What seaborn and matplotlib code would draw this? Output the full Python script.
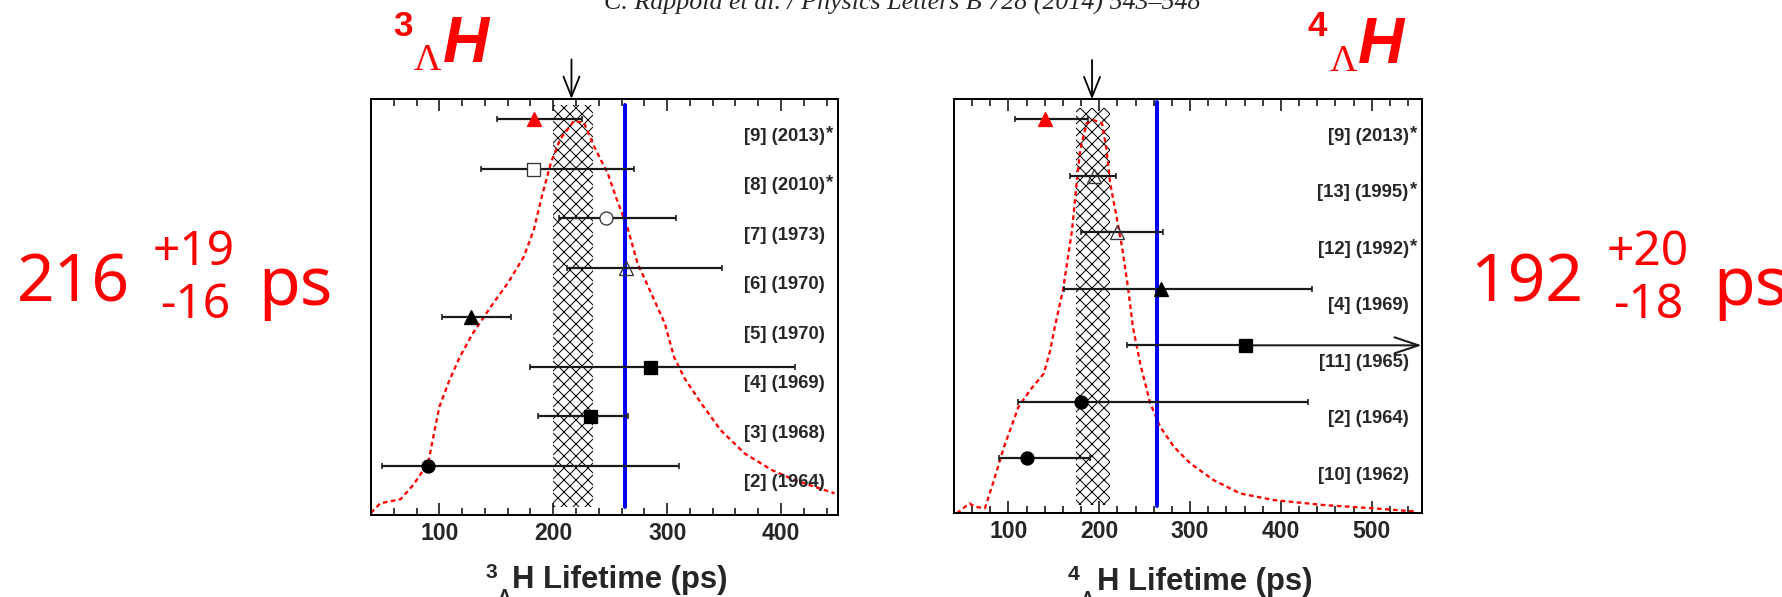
import matplotlib
matplotlib.use("Agg")
import matplotlib.pyplot as plt
from matplotlib.ticker import MultipleLocator
import seaborn as sns

# --- 3-Lambda-H lifetime measurements (bottom row first) ---
h3_labels = ["[2] (1964)", "[3] (1968)", "[4] (1969)", "[5] (1970)",
             "[6] (1970)", "[7] (1973)", "[8] (2010)", "[9] (2013)"]
h3_star = [False, False, False, False, False, False, True, True]
h3_tau = [90, 232, 285, 128, 264, 246, 182, 183]
h3_plus = [220, 34, 127, 35, 84, 62, 89, 42]
h3_minus = [40, 45, 105, 26, 52, 41, 45, 32]
h3_marker = ["o", "s", "s", "^", "^", "o", "s", "^"]
h3_kind = ["full", "full", "full", "full", "open", "open", "open", "red"]

# combined ideogram (height as fraction of the frame)
h3_curve_x = [40, 48, 66, 77, 90, 93, 100, 109, 118, 129, 145, 160, 174, 183,
              190, 198, 206, 218, 227, 236, 248, 256, 265, 274, 286, 298, 306,
              315, 330, 347, 368, 392, 412, 447]
h3_curve_y = [0.005, 0.028, 0.038, 0.072, 0.124, 0.164, 0.26, 0.325, 0.38,
              0.435, 0.50, 0.557, 0.62, 0.686, 0.766, 0.847, 0.903, 0.947,
              0.943, 0.885, 0.82, 0.757, 0.693, 0.605, 0.533, 0.46, 0.38,
              0.33, 0.268, 0.204, 0.148, 0.108, 0.084, 0.052]
h3_avg, h3_up, h3_dn = 216, 19, 16

# --- 4-Lambda-H lifetime measurements (bottom row first) ---
h4_labels = ["[10] (1962)", "[2] (1964)", "[11] (1965)", "[4] (1969)",
             "[12] (1992)", "[13] (1995)", "[9] (2013)"]
h4_star = [False, False, False, False, True, True, True]
h4_tau = [120, 180, 360, 268, 220, 194, 140]
h4_plus = [70, 250, None, 166, 50, 24, 48]   # None: no upper bound
h4_minus = [30, 70, 130, 107, 40, 26, 33]
h4_marker = ["o", "o", "s", "^", "^", "^", "^"]
h4_kind = ["full", "full", "full", "full", "open", "open", "red"]

h4_curve_x = [43, 57, 63, 74, 84, 95, 111, 124, 139, 146, 151, 160, 170, 175,
              179, 186, 193, 203, 208, 212, 219, 225, 232, 237, 245, 256, 267,
              282, 300, 326, 355, 392, 447, 502, 550]
h4_curve_y = [0.0, 0.024, 0.016, 0.012, 0.08, 0.16, 0.257, 0.298, 0.338,
              0.394, 0.45, 0.539, 0.684, 0.797, 0.878, 0.942, 0.95, 0.942,
              0.878, 0.797, 0.716, 0.644, 0.539, 0.45, 0.362, 0.266, 0.209,
              0.161, 0.121, 0.08, 0.048, 0.032, 0.02, 0.012, 0.004]
h4_avg, h4_up, h4_dn = 192, 20, 18

free_lambda = 263.2

sns.set_theme(style="white")
plt.rcParams["font.family"] = ["Liberation Sans", "DejaVu Sans"]
plt.rcParams["hatch.linewidth"] = 1.0

W, H = 1782, 597
fig = plt.figure(figsize=(W / 72, H / 72), dpi=72)


def px(x, y):
    return x / W, 1 - y / H


def panel(rect, labels, star, tau, plus, minus, markers, kinds,
          cx, cy, avg, up, dn, xlim, ylim, band_y, line_y):
    ax = fig.add_axes(rect)
    ax.set_xlim(*xlim)
    ax.set_ylim(*ylim)
    rows = list(range(len(labels)))

    ax.axvspan(avg - dn, avg + up, ymin=band_y[0], ymax=band_y[1],
               facecolor="none", edgecolor="black", hatch="xx",
               linewidth=0, zorder=1)
    sns.lineplot(x=cx, y=cy, ax=ax, color="red", linestyle=(0, (2.0, 1.5)),
                 linewidth=2.3, transform=ax.get_xaxis_transform(), zorder=2)
    ax.axvline(free_lambda, ymin=line_y[0], ymax=line_y[1], color="#0000ee",
               linewidth=4, zorder=3)

    for r, t, p, m, mk, kd, lab, st in zip(rows, tau, plus, minus, markers,
                                            kinds, labels, star):
        hi = 0 if p is None else p
        ax.errorbar([t], [r], xerr=[[m], [hi]], fmt="none", ecolor="#1a1a1a",
                    elinewidth=2.2, capsize=3, capthick=1.6, zorder=4)
        if p is None:
            ax.annotate("", xy=(xlim[1], r), xytext=(t, r),
                        arrowprops=dict(arrowstyle="->,head_length=1.2,head_width=0.4",
                                        lw=2.0, color="#1a1a1a",
                                        mutation_scale=20, shrinkA=0, shrinkB=0),
                        annotation_clip=False, zorder=4)
        if kd == "full":
            fc, ec = "black", "black"
        elif kd == "red":
            fc, ec = "red", "red"
        else:
            fc, ec = ("none" if mk == "^" else "white"), "#333333"
        ms = {"o": 13, "s": 13, "^": 14}[mk]
        ax.plot([t], [r], marker=mk, ms=ms, mfc=fc, mec=ec, mew=1.3,
                ls="none", zorder=5)
        ax.annotate(lab, xy=(1, r), xycoords=ax.get_yaxis_transform(),
                    xytext=(-13, -17), textcoords="offset pixels",
                    ha="right", va="center", fontsize=18.5, fontweight="bold")
        if st:
            ax.annotate("*", xy=(1, r), xycoords=ax.get_yaxis_transform(),
                        xytext=(-12, -14), textcoords="offset pixels",
                        ha="left", va="center", fontsize=18.5,
                        fontweight="bold")

    # arrow marking the average
    ax.annotate("", xy=(avg, 1.0), xytext=(avg, 1.095),
                xycoords=ax.get_xaxis_transform(),
                arrowprops=dict(arrowstyle="->,head_length=1.0,head_width=0.4",
                                lw=1.8, color="black", mutation_scale=20,
                                shrinkA=0, shrinkB=0),
                annotation_clip=False)

    ax.set_xlabel("")
    ax.set_ylabel("")
    ax.set_yticks([])
    ax.xaxis.set_major_locator(MultipleLocator(100))
    ax.xaxis.set_minor_locator(MultipleLocator(20))
    ax.tick_params(axis="x", which="both", direction="in", top=True,
                   bottom=True, width=1.5, color="black")
    ax.tick_params(axis="x", which="major", length=12, pad=7,
                   labelsize=23)
    ax.tick_params(axis="x", which="minor", length=7)
    for lbl in ax.get_xticklabels():
        lbl.set_fontweight("bold")
    for s in ax.spines.values():
        s.set_linewidth(2)
        s.set_color("black")
    ax.set_facecolor("white")
    return ax


panel([371 / W, 1 - 515 / H, 467 / W, 416 / H],
      h3_labels, h3_star, h3_tau, h3_plus, h3_minus, h3_marker, h3_kind,
      h3_curve_x, h3_curve_y, h3_avg, h3_up, h3_dn,
      (40, 450), (-1.0, 7.41), (0.019, 0.986), (0.019, 0.986))

panel([954 / W, 1 - 513.3 / H, 467.7 / W, 414 / H],
      h4_labels, h4_star, h4_tau, h4_plus, h4_minus, h4_marker, h4_kind,
      h4_curve_x, h4_curve_y, h4_avg, h4_up, h4_dn,
      (40, 555), (-0.97, 6.35), (0.02, 0.978), (0.018, 0.993))

# axis titles (written like the hypernucleus symbol)
for x3, xl, xh, yb, mass in [(491, 505, 511.7, 588, "3"),
                             (1074, 1088, 1096.7, 590, "4")]:
    fig.text(*px(x3, yb - 16), mass, fontsize=21, fontweight="bold",
             ha="center", va="center")
    fig.text(*px(xl, yb), "Λ", fontsize=20, fontweight="bold",
             ha="center", va="top")
    fig.text(*px(xh, yb), "H Lifetime (ps)", fontsize=31,
             fontweight="bold", ha="left", va="baseline")

# journal header, clipped at the top
fig.text(*px(902, 10), "C. Rappold et al. / Physics Letters B 728 (2014) 543–548",
         family="Liberation Serif", style="italic", fontsize=26,
         ha="center", va="baseline")

# red hypernucleus titles
red = "#ff0000"
for xm, xl, xh, yh, mass in [(403, 427.5, 443, 62, "3"),
                             (1317, 1343, 1358, 63, "4")]:
    fig.text(*px(xm, yh - 36), mass, color=red, fontsize=35,
             fontweight="bold", ha="center", va="center")
    fig.text(*px(xl, yh - 1), "Λ", color=red, fontsize=38,
             family="Liberation Serif", ha="center", va="center")
    fig.text(*px(xh, yh), "H", color=red, fontsize=64, fontweight="bold",
             style="italic", ha="left", va="baseline")

# red results
for x0, xp, xm, xs, val, up, dn in [(17, 153, 160, 258, h3_avg, h3_up, h3_dn),
                                    (1470, 1607, 1613, 1713, h4_avg, h4_up, h4_dn)]:
    fig.text(*px(x0, 302), f"{val}", color=red, fontsize=66,
             family="Noto Sans", ha="left", va="baseline")
    fig.text(*px(xp, 265), f"+{up}", color=red, fontsize=48,
             family="Noto Sans", ha="left", va="baseline")
    fig.text(*px(xm, 318), f"-{dn}", color=red, fontsize=48,
             family="Noto Sans", ha="left", va="baseline")
    fig.text(*px(xs, 305), "ps", color=red, fontsize=68,
             family="Noto Sans", ha="left", va="baseline")

fig.savefig("out.png", dpi=72, facecolor="white")
